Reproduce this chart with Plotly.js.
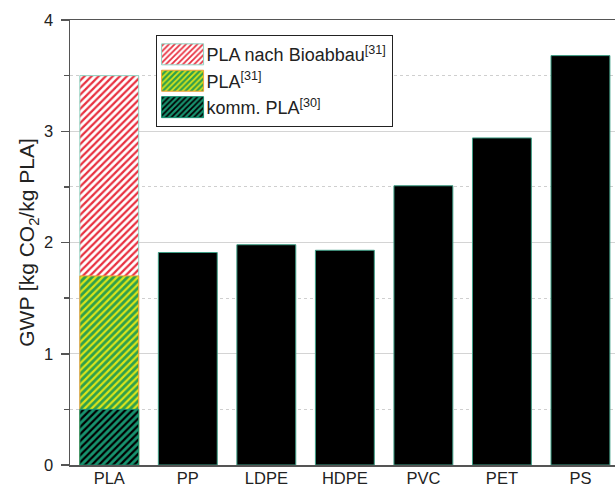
<!DOCTYPE html>
<html>
<head>
<meta charset="utf-8">
<script src="https://cdn.plot.ly/plotly-3.0.1.min.js"></script>
<style>
  html, body { margin: 0; padding: 0; background: #fff; }
  #chart { width: 615px; height: 489px; }
</style>
</head>
<body>
<div id="chart"></div>
<script>
// Global warming potential of PLA compared with conventional plastics
const categories = ['PLA', 'PP', 'LDPE', 'HDPE', 'PVC', 'PET', 'PS'];

// PLA variants (overlaid on the PLA category)
const plaBioabbau = 3.5;   // PLA nach Bioabbau [31]
const plaRef31 = 1.7;      // PLA [31]
const plaKomm = 0.5;       // komm. PLA [30]

// Conventional plastics
const otherNames = ['PP', 'LDPE', 'HDPE', 'PVC', 'PET', 'PS'];
const otherValues = [1.91, 1.98, 1.93, 2.51, 2.94, 3.68];

const legendNames = [
  'PLA nach Bioabbau<sup>[31]</sup>',
  'PLA<sup>[31]</sup>',
  'komm. PLA<sup>[30]</sup>'
];

const barWidth = 0.75;
const FONT = 'Liberation Sans, Arial, sans-serif';

const traces = [
  {
    type: 'bar', x: ['PLA'], y: [plaBioabbau], name: legendNames[0], width: barWidth,
    marker: {
      color: '#ffffff',
      line: { color: '#8fd3c2', width: 1 },
      pattern: { shape: '/', fgcolor: '#e8303f', bgcolor: '#ffffff', size: 5, solidity: 0.45 }
    }
  },
  {
    type: 'bar', x: ['PLA'], y: [plaRef31], name: legendNames[1], width: barWidth,
    marker: {
      color: '#34a64a',
      line: { color: '#f2a23a', width: 1 },
      pattern: { shape: '/', fgcolor: '#d9e41a', bgcolor: '#2f9f4c', size: 5, solidity: 0.45 }
    }
  },
  {
    type: 'bar', x: ['PLA'], y: [plaKomm], name: legendNames[2], width: barWidth,
    marker: {
      color: '#16906f',
      line: { color: '#16906f', width: 1 },
      pattern: { shape: '/', fgcolor: '#000000', bgcolor: '#17936f', size: 5, solidity: 0.45 }
    }
  },
  {
    type: 'bar', x: otherNames, y: otherValues, name: 'Kunststoffe', width: barWidth,
    showlegend: false,
    marker: { color: '#000000', line: { color: '#3f9f86', width: 1 } }
  }
];

const layout = {
  width: 615, height: 489,
  margin: { l: 70, r: 0, t: 20, b: 24 },
  barmode: 'overlay',
  paper_bgcolor: '#ffffff', plot_bgcolor: '#ffffff',
  font: { family: FONT, color: '#222222' },
  showlegend: true,
  legend: {
    x: 0.157, y: 0.966, xanchor: 'left', yanchor: 'top',
    bgcolor: '#ffffff', bordercolor: '#222222', borderwidth: 1,
    font: { size: 18, color: '#222222', family: FONT },
    traceorder: 'normal',
    itemwidth: 40
  },
  xaxis: {
    type: 'category',
    categoryorder: 'array', categoryarray: categories,
    range: [-0.5, 6.44],
    showline: true, linecolor: '#555555', linewidth: 1.5, mirror: true,
    ticks: '', showgrid: false, zeroline: false,
    ticklabelstandoff: -2,
    tickfont: { size: 16.5, color: '#222222' }
  },
  yaxis: {
    range: [0, 4], dtick: 1, tick0: 0,
    showline: true, linecolor: '#555555', linewidth: 1.5,
    ticks: 'outside', ticklen: 8, tickwidth: 1.5, tickcolor: '#555555',
    ticklabelstandoff: 4,
    showgrid: true, gridcolor: '#d4d4d4', gridwidth: 1,
    zeroline: false,
    tickfont: { size: 16.5, color: '#222222' },
    minor: {
      dtick: 0.5, ticks: 'outside', ticklen: 5, tickwidth: 1.5, tickcolor: '#555555',
      showgrid: true, gridcolor: '#cfcfcf', griddash: 'dot', gridwidth: 1
    },
    title: { text: 'GWP [kg CO<sub>2</sub>/kg PLA]', font: { size: 21, color: '#222222' }, standoff: 3 }
  }
};

// Widen the legend swatches into wide rectangles like the bar fills
function widenLegendSwatches(gd) {
  const paths = gd.querySelectorAll('.legend .traces .legendpoints path');
  paths.forEach(function (p) {
    p.setAttribute('d', 'M-20,-10.5H22V10.5H-20Z');
  });
}

Plotly.newPlot('chart', traces, layout, { displayModeBar: false, staticPlot: true })
  .then(widenLegendSwatches);
</script>
</body>
</html>
